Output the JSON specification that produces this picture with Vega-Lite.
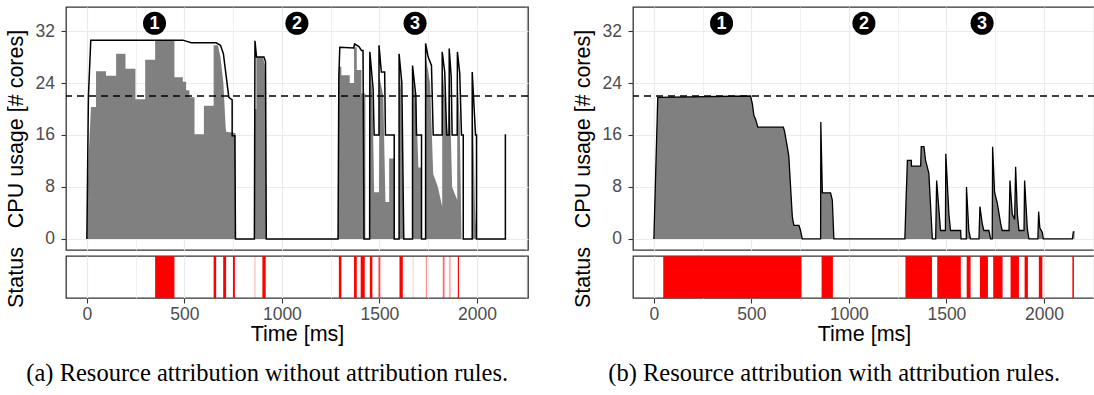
{
  "$schema": "https://vega.github.io/schema/vega-lite/v6.json",
  "padding": {"left": 4, "top": 6, "right": 0, "bottom": 0},
  "background": "white",
  "spacing": 41,
  "config": {
    "font": "Liberation Sans",
    "view": {"stroke": "#333333", "strokeWidth": 1.3},
    "axis": {
      "domain": false,
      "labelFont": "Liberation Sans",
      "labelFontSize": 17.5,
      "labelColor": "#4D4D4D",
      "titleFont": "Liberation Sans",
      "titleFontSize": 21.5,
      "titleFontWeight": "normal",
      "titleColor": "#000000",
      "tickColor": "#333333",
      "tickWidth": 1.1,
      "tickSize": 5,
      "gridColor": "#EBEBEB",
      "labelOverlap": false
    },
    "title": {"font": "Liberation Serif", "fontSize": 24.5, "fontWeight": "normal", "color": "#000000"}
  },
  "datasets": {
    "markers": [
      {"t": 347, "v": 33.2, "label": "1"},
      {"t": 1077, "v": 33.2, "label": "2"},
      {"t": 1683, "v": 33.2, "label": "3"}
    ],
    "a_gray": [
      {"t": 0, "v": 0}, {"t": 8, "v": 12}, {"t": 21, "v": 20.3}, {"t": 47, "v": 20.3},
      {"t": 47, "v": 25.8}, {"t": 98, "v": 25.8}, {"t": 98, "v": 25.1}, {"t": 150, "v": 25.1},
      {"t": 150, "v": 28.5}, {"t": 198, "v": 28.5}, {"t": 198, "v": 26.2}, {"t": 249, "v": 26.2},
      {"t": 249, "v": 21.5}, {"t": 299, "v": 21.5}, {"t": 299, "v": 27.6}, {"t": 350, "v": 27.6},
      {"t": 350, "v": 30.6}, {"t": 449, "v": 30.6}, {"t": 449, "v": 24.9}, {"t": 492, "v": 24.9},
      {"t": 492, "v": 24.2}, {"t": 509, "v": 24.2}, {"t": 509, "v": 22.9}, {"t": 526, "v": 22.9},
      {"t": 526, "v": 21.8}, {"t": 552, "v": 21.8}, {"t": 552, "v": 16.1}, {"t": 600, "v": 16.1},
      {"t": 600, "v": 20.5}, {"t": 650, "v": 20.5}, {"t": 650, "v": 29.8}, {"t": 672, "v": 29.8},
      {"t": 685, "v": 28}, {"t": 700, "v": 24}, {"t": 712, "v": 17}, {"t": 715, "v": 16.5},
      {"t": 762, "v": 16.3}, {"t": 762, "v": 0}, {"t": 862, "v": 0}, {"t": 862, "v": 20},
      {"t": 869, "v": 20}, {"t": 869, "v": 28}, {"t": 903, "v": 28}, {"t": 912, "v": 26.8},
      {"t": 918, "v": 20}, {"t": 920, "v": 0}, {"t": 1288, "v": 0}, {"t": 1292, "v": 26.5},
      {"t": 1305, "v": 26.5}, {"t": 1305, "v": 25.2}, {"t": 1348, "v": 25.2}, {"t": 1348, "v": 24},
      {"t": 1370, "v": 24}, {"t": 1370, "v": 29.5}, {"t": 1384, "v": 29.5}, {"t": 1384, "v": 26},
      {"t": 1408, "v": 26}, {"t": 1408, "v": 22.4}, {"t": 1428, "v": 22.4}, {"t": 1428, "v": 0},
      {"t": 1450, "v": 0}, {"t": 1451, "v": 27.5}, {"t": 1465, "v": 22}, {"t": 1473, "v": 7.2},
      {"t": 1498, "v": 7.2}, {"t": 1500, "v": 25}, {"t": 1520, "v": 22}, {"t": 1531, "v": 5.7},
      {"t": 1550, "v": 5.7}, {"t": 1550, "v": 12.4}, {"t": 1576, "v": 12.4}, {"t": 1576, "v": 0},
      {"t": 1601, "v": 0}, {"t": 1602, "v": 27}, {"t": 1613, "v": 22}, {"t": 1625, "v": 0},
      {"t": 1670, "v": 0}, {"t": 1671, "v": 25}, {"t": 1690, "v": 20}, {"t": 1700, "v": 11},
      {"t": 1716, "v": 11}, {"t": 1716, "v": 0}, {"t": 1737, "v": 0}, {"t": 1738, "v": 28},
      {"t": 1760, "v": 24}, {"t": 1776, "v": 10}, {"t": 1800, "v": 8}, {"t": 1822, "v": 5},
      {"t": 1822, "v": 27}, {"t": 1840, "v": 20}, {"t": 1850, "v": 16}, {"t": 1858, "v": 26},
      {"t": 1873, "v": 8}, {"t": 1899, "v": 6}, {"t": 1899, "v": 26}, {"t": 1912, "v": 18},
      {"t": 1921, "v": 0}, {"t": 1976, "v": 0}, {"t": 1977, "v": 23}, {"t": 1990, "v": 5},
      {"t": 1998, "v": 0}, {"t": 2150, "v": 0}
    ],
    "a_line": [
      {"t": 0, "v": 0}, {"t": 8, "v": 22}, {"t": 20, "v": 30.6}, {"t": 492, "v": 30.6},
      {"t": 535, "v": 30.2}, {"t": 663, "v": 30.2}, {"t": 685, "v": 29.8}, {"t": 700, "v": 28.5},
      {"t": 715, "v": 24.9}, {"t": 728, "v": 21.8}, {"t": 745, "v": 21.4}, {"t": 745, "v": 15.9},
      {"t": 759, "v": 15.9}, {"t": 762, "v": 0}, {"t": 859, "v": 0}, {"t": 862, "v": 30.5},
      {"t": 870, "v": 28}, {"t": 908, "v": 28}, {"t": 916, "v": 27.3}, {"t": 920, "v": 0},
      {"t": 1288, "v": 0}, {"t": 1292, "v": 25}, {"t": 1297, "v": 29.5}, {"t": 1368, "v": 29.4},
      {"t": 1373, "v": 30}, {"t": 1395, "v": 29.6}, {"t": 1408, "v": 29}, {"t": 1416, "v": 29},
      {"t": 1421, "v": 0}, {"t": 1450, "v": 0}, {"t": 1451, "v": 28.8}, {"t": 1468, "v": 23},
      {"t": 1473, "v": 16}, {"t": 1498, "v": 16}, {"t": 1498, "v": 29.8}, {"t": 1510, "v": 25.7},
      {"t": 1527, "v": 25.7}, {"t": 1531, "v": 16}, {"t": 1576, "v": 16}, {"t": 1576, "v": 0},
      {"t": 1601, "v": 0}, {"t": 1601, "v": 28.5}, {"t": 1615, "v": 24}, {"t": 1625, "v": 0},
      {"t": 1670, "v": 0}, {"t": 1670, "v": 26.7}, {"t": 1687, "v": 22}, {"t": 1690, "v": 16},
      {"t": 1716, "v": 16}, {"t": 1716, "v": 0}, {"t": 1737, "v": 0}, {"t": 1737, "v": 30.1},
      {"t": 1750, "v": 28}, {"t": 1767, "v": 26.7}, {"t": 1776, "v": 16}, {"t": 1822, "v": 16},
      {"t": 1822, "v": 28.8}, {"t": 1835, "v": 25.7}, {"t": 1845, "v": 16}, {"t": 1858, "v": 16},
      {"t": 1858, "v": 29.3}, {"t": 1868, "v": 25}, {"t": 1873, "v": 16}, {"t": 1899, "v": 16},
      {"t": 1900, "v": 28.8}, {"t": 1912, "v": 25.5}, {"t": 1921, "v": 16}, {"t": 1930, "v": 16},
      {"t": 1930, "v": 0}, {"t": 1976, "v": 0}, {"t": 1976, "v": 25.7}, {"t": 1993, "v": 16},
      {"t": 1998, "v": 16}, {"t": 1998, "v": 0}, {"t": 2146, "v": 0}, {"t": 2146, "v": 16},
      {"t": 2150, "v": 16}
    ],
    "b_cpu": [
      {"t": 0, "v": 0}, {"t": 20, "v": 21.8}, {"t": 496, "v": 22}, {"t": 505, "v": 20.8},
      {"t": 513, "v": 19}, {"t": 522, "v": 18.4}, {"t": 533, "v": 17.2}, {"t": 664, "v": 17.2},
      {"t": 670, "v": 16.6}, {"t": 684, "v": 14.2}, {"t": 692, "v": 12.7}, {"t": 710, "v": 3.4},
      {"t": 718, "v": 2.1}, {"t": 744, "v": 2.1}, {"t": 752, "v": 1.3}, {"t": 761, "v": 0},
      {"t": 855, "v": 0}, {"t": 856, "v": 18}, {"t": 864, "v": 7.1}, {"t": 906, "v": 7.1},
      {"t": 915, "v": 6}, {"t": 923, "v": 0}, {"t": 1287, "v": 0}, {"t": 1292, "v": 4.9},
      {"t": 1300, "v": 12.1}, {"t": 1320, "v": 12.1}, {"t": 1321, "v": 11.2}, {"t": 1368, "v": 11.2},
      {"t": 1371, "v": 14.2}, {"t": 1385, "v": 14.2}, {"t": 1393, "v": 12.1}, {"t": 1402, "v": 11.1},
      {"t": 1410, "v": 10.1}, {"t": 1428, "v": 0}, {"t": 1445, "v": 0}, {"t": 1450, "v": 9},
      {"t": 1470, "v": 1.3}, {"t": 1495, "v": 1.3}, {"t": 1497, "v": 13.1}, {"t": 1513, "v": 3.8},
      {"t": 1521, "v": 1.3}, {"t": 1573, "v": 1.3}, {"t": 1575, "v": 0}, {"t": 1602, "v": 0},
      {"t": 1603, "v": 8}, {"t": 1615, "v": 1.3}, {"t": 1624, "v": 0}, {"t": 1667, "v": 0},
      {"t": 1672, "v": 5}, {"t": 1684, "v": 2.3}, {"t": 1692, "v": 1.3}, {"t": 1718, "v": 1.3},
      {"t": 1727, "v": 0}, {"t": 1735, "v": 0}, {"t": 1737, "v": 14.2}, {"t": 1747, "v": 7.2},
      {"t": 1761, "v": 5.5}, {"t": 1778, "v": 2.4}, {"t": 1786, "v": 1.3}, {"t": 1821, "v": 1.3},
      {"t": 1826, "v": 9}, {"t": 1838, "v": 3.8}, {"t": 1850, "v": 3}, {"t": 1855, "v": 11.1},
      {"t": 1864, "v": 3.8}, {"t": 1872, "v": 1.3}, {"t": 1898, "v": 1.3}, {"t": 1901, "v": 9},
      {"t": 1915, "v": 1.6}, {"t": 1923, "v": 0}, {"t": 1969, "v": 0}, {"t": 1973, "v": 4.2},
      {"t": 1979, "v": 1.7}, {"t": 1992, "v": 1.0}, {"t": 1997, "v": 0}, {"t": 2146, "v": 0},
      {"t": 2151, "v": 1.1}, {"t": 2157, "v": 1.1}
    ],
    "a_status": [
      {"t0": 350, "t1": 449, "op": 1}, {"t0": 650, "t1": 663, "op": 1}, {"t0": 699, "t1": 714, "op": 1},
      {"t0": 749, "t1": 759, "op": 1}, {"t0": 860, "t1": 864, "op": 0.4}, {"t0": 900, "t1": 917, "op": 1},
      {"t0": 1292, "t1": 1305, "op": 1}, {"t0": 1370, "t1": 1384, "op": 1}, {"t0": 1404, "t1": 1425, "op": 1},
      {"t0": 1451, "t1": 1464, "op": 1}, {"t0": 1495, "t1": 1505, "op": 0.7}, {"t0": 1603, "t1": 1620, "op": 1},
      {"t0": 1671, "t1": 1675, "op": 0.25}, {"t0": 1738, "t1": 1743, "op": 0.55}, {"t0": 1825, "t1": 1834, "op": 0.6},
      {"t0": 1856, "t1": 1866, "op": 0.3}, {"t0": 1902, "t1": 1908, "op": 1}
    ],
    "b_status": [
      {"t0": 48, "t1": 757, "op": 1}, {"t0": 860, "t1": 918, "op": 1}, {"t0": 1290, "t1": 1426, "op": 1},
      {"t0": 1453, "t1": 1574, "op": 1}, {"t0": 1604, "t1": 1624, "op": 1}, {"t0": 1672, "t1": 1713, "op": 1},
      {"t0": 1740, "t1": 1788, "op": 1}, {"t0": 1829, "t1": 1872, "op": 1}, {"t0": 1901, "t1": 1918, "op": 1},
      {"t0": 1974, "t1": 1992, "op": 1}, {"t0": 2146, "t1": 2154, "op": 1}
    ]
  },
  "hconcat": [
    {
      "title": {"text": "(a) Resource attribution without attribution rules.", "orient": "bottom", "anchor": "middle", "offset": 16},
      "spacing": 6,
      "bounds": "flush",
      "vconcat": [
        {
          "width": 462, "height": 243,
          "layer": [
            {
              "data": {"name": "a_gray"},
              "mark": {"type": "area", "color": "#808080", "opacity": 1, "clip": true},
              "encoding": {
                "x": {"field": "t", "type": "quantitative", "scale": {"domain": [-107, 2262], "nice": false, "zero": false},
                  "axis": {"values": [0, 250, 500, 750, 1000, 1250, 1500, 1750, 2000, 2250], "labels": false, "ticks": false, "title": null,
                    "tickSize": 0, "labelPadding": 0, "minExtent": 0, "maxExtent": 0,
                    "gridWidth": {"condition": {"test": "datum.value % 500 === 0", "value": 1.2}, "value": 0.7}}},
                "y": {"field": "v", "type": "quantitative", "stack": null, "scale": {"domain": [-1.7, 35.7], "nice": false, "zero": false},
                  "axis": {"values": [0, 4, 8, 12, 16, 20, 24, 28, 32], "title": "CPU usage [# cores]",
                    "labelExpr": "datum.value % 8 === 0 ? datum.label : ''",
                    "tickOpacity": {"condition": {"test": "datum.value % 8 === 0", "value": 1}, "value": 0},
                    "gridWidth": {"condition": {"test": "datum.value % 8 === 0", "value": 1.2}, "value": 0.7},
                    "labelPadding": 6.5, "minExtent": 31, "maxExtent": 31, "titlePadding": 7.4}},
                "order": {"value": null}
              }
            },
            {
              "data": {"name": "a_line"},
              "mark": {"type": "line", "color": "#000000", "strokeWidth": 1.5, "clip": true},
              "encoding": {
                "x": {"field": "t", "type": "quantitative"},
                "y": {"field": "v", "type": "quantitative", "stack": null},
                "order": {"value": null}
              }
            },
            {
              "data": {"values": [{}]},
              "mark": {"type": "rule", "color": "#000000", "strokeWidth": 1.5, "strokeDash": [7, 5]},
              "encoding": {"y": {"datum": 22, "type": "quantitative"}}
            },
            {
              "data": {"name": "markers"},
              "mark": {"type": "point", "filled": true, "color": "#000000", "opacity": 1, "size": 530, "shape": "circle"},
              "encoding": {
                "x": {"field": "t", "type": "quantitative"},
                "y": {"field": "v", "type": "quantitative"}
              }
            },
            {
              "data": {"name": "markers"},
              "mark": {"type": "text", "color": "#FFFFFF", "fontWeight": "bold", "fontSize": 18, "baseline": "middle", "align": "center", "dy": 1},
              "encoding": {
                "x": {"field": "t", "type": "quantitative"},
                "y": {"field": "v", "type": "quantitative"},
                "text": {"field": "label"}
              }
            }
          ]
        },
        {
          "width": 462, "height": 42,
          "data": {"name": "a_status"},
          "mark": {"type": "rect", "color": "#FF0000"},
          "encoding": {
            "x": {"field": "t0", "type": "quantitative", "scale": {"domain": [-107, 2262], "nice": false, "zero": false},
              "axis": {"values": [0, 250, 500, 750, 1000, 1250, 1500, 1750, 2000, 2250], "title": "Time [ms]", "format": "d",
                "labelExpr": "datum.value % 500 === 0 ? datum.label : ''",
                "tickOpacity": {"condition": {"test": "datum.value % 500 === 0", "value": 1}, "value": 0},
                "gridWidth": {"condition": {"test": "datum.value % 500 === 0", "value": 1.2}, "value": 0.7},
                "labelPadding": 2, "titlePadding": 1}},
            "x2": {"field": "t1"},
            "y": {"datum": 0, "type": "quantitative", "scale": {"domain": [0, 1], "nice": false, "zero": false},
              "axis": {"title": "Status", "labels": false, "ticks": false, "grid": false, "minExtent": 31, "maxExtent": 31, "titlePadding": 7.4}},
            "y2": {"datum": 1},
            "opacity": {"field": "op", "type": "quantitative", "scale": null, "legend": null}
          }
        }
      ]
    },
    {
      "title": {"text": "(b) Resource attribution with attribution rules.", "orient": "bottom", "anchor": "middle", "offset": 16},
      "spacing": 6,
      "bounds": "flush",
      "vconcat": [
        {
          "width": 462, "height": 243,
          "layer": [
            {
              "data": {"name": "b_cpu"},
              "mark": {"type": "area", "color": "#808080", "opacity": 1, "clip": true},
              "encoding": {
                "x": {"field": "t", "type": "quantitative", "scale": {"domain": [-107, 2262], "nice": false, "zero": false},
                  "axis": {"values": [0, 250, 500, 750, 1000, 1250, 1500, 1750, 2000, 2250], "labels": false, "ticks": false, "title": null,
                    "tickSize": 0, "labelPadding": 0, "minExtent": 0, "maxExtent": 0,
                    "gridWidth": {"condition": {"test": "datum.value % 500 === 0", "value": 1.2}, "value": 0.7}}},
                "y": {"field": "v", "type": "quantitative", "stack": null, "scale": {"domain": [-1.7, 35.7], "nice": false, "zero": false},
                  "axis": {"values": [0, 4, 8, 12, 16, 20, 24, 28, 32], "title": "CPU usage [# cores]",
                    "labelExpr": "datum.value % 8 === 0 ? datum.label : ''",
                    "tickOpacity": {"condition": {"test": "datum.value % 8 === 0", "value": 1}, "value": 0},
                    "gridWidth": {"condition": {"test": "datum.value % 8 === 0", "value": 1.2}, "value": 0.7},
                    "labelPadding": 6.5, "minExtent": 31, "maxExtent": 31, "titlePadding": 7.4}},
                "order": {"value": null}
              }
            },
            {
              "data": {"name": "b_cpu"},
              "mark": {"type": "line", "color": "#000000", "strokeWidth": 1.3, "clip": true},
              "encoding": {
                "x": {"field": "t", "type": "quantitative"},
                "y": {"field": "v", "type": "quantitative", "stack": null},
                "order": {"value": null}
              }
            },
            {
              "data": {"values": [{}]},
              "mark": {"type": "rule", "color": "#000000", "strokeWidth": 1.5, "strokeDash": [7, 5]},
              "encoding": {"y": {"datum": 22, "type": "quantitative"}}
            },
            {
              "data": {"name": "markers"},
              "mark": {"type": "point", "filled": true, "color": "#000000", "opacity": 1, "size": 530, "shape": "circle"},
              "encoding": {
                "x": {"field": "t", "type": "quantitative"},
                "y": {"field": "v", "type": "quantitative"}
              }
            },
            {
              "data": {"name": "markers"},
              "mark": {"type": "text", "color": "#FFFFFF", "fontWeight": "bold", "fontSize": 18, "baseline": "middle", "align": "center", "dy": 1},
              "encoding": {
                "x": {"field": "t", "type": "quantitative"},
                "y": {"field": "v", "type": "quantitative"},
                "text": {"field": "label"}
              }
            }
          ]
        },
        {
          "width": 462, "height": 42,
          "data": {"name": "b_status"},
          "mark": {"type": "rect", "color": "#FF0000"},
          "encoding": {
            "x": {"field": "t0", "type": "quantitative", "scale": {"domain": [-107, 2262], "nice": false, "zero": false},
              "axis": {"values": [0, 250, 500, 750, 1000, 1250, 1500, 1750, 2000, 2250], "title": "Time [ms]", "format": "d",
                "labelExpr": "datum.value % 500 === 0 ? datum.label : ''",
                "tickOpacity": {"condition": {"test": "datum.value % 500 === 0", "value": 1}, "value": 0},
                "gridWidth": {"condition": {"test": "datum.value % 500 === 0", "value": 1.2}, "value": 0.7},
                "labelPadding": 2, "titlePadding": 1}},
            "x2": {"field": "t1"},
            "y": {"datum": 0, "type": "quantitative", "scale": {"domain": [0, 1], "nice": false, "zero": false},
              "axis": {"title": "Status", "labels": false, "ticks": false, "grid": false, "minExtent": 31, "maxExtent": 31, "titlePadding": 7.4}},
            "y2": {"datum": 1},
            "opacity": {"field": "op", "type": "quantitative", "scale": null, "legend": null}
          }
        }
      ]
    }
  ]
}
